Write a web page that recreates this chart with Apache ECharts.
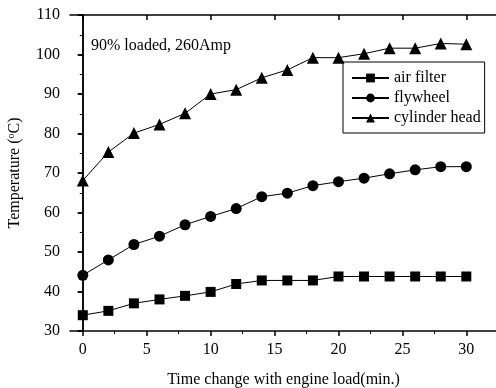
<!DOCTYPE html>
<html><head><meta charset="utf-8">
<script src="https://cdn.jsdelivr.net/npm/echarts@6/dist/echarts.min.js"></script>
<style>html,body{margin:0;padding:0;background:#fff}#c{width:496px;height:388px}</style>
</head><body><div id="c"></div>
<script>
var times = [0,2,4,6,8,10,12,14,16,18,20,22,24,26,28,30];
var airFilter = [34,35.1,37,38,38.9,39.9,41.9,42.8,42.8,42.8,43.8,43.8,43.8,43.8,43.8,43.8];
var flywheel = [44.1,48,51.9,54,56.9,59,61,64,64.9,66.8,67.8,68.7,69.8,70.8,71.6,71.6];
var cylinderHead = [68.1,75.3,80.1,82.3,85.1,90,91.1,94.1,96.1,99.2,99.2,100.2,101.6,101.6,102.8,102.6];
var xMajorTicks = [0,5,10,15,20,25,30];
var xMinorTicks = [2.5,7.5,12.5,17.5,22.5,27.5];
var seriesNames = ['air filter','flywheel','cylinder head'];

function pairs(v){ return times.map(function(t,i){ return [t, v[i]]; }); }
var font = 'Liberation Serif';
var chart = echarts.init(document.getElementById('c'));
var lineStyle = {color:'#000', width:1};
chart.setOption({
  animation:false,
  grid:{left:70, top:15, right:-1, bottom:57, containLabel:false, outerBoundsMode:'none'},
  legend:{
    orient:'vertical', left:343, top:62,
    borderColor:'#000', borderWidth:1, padding:[8,4,7,8],
    itemWidth:37, itemHeight:11, itemGap:4,
    textStyle:{fontFamily:font, fontSize:16, color:'#000'},
    data:seriesNames
  },
  graphic:[{type:'text', left:91, top:38, style:{text:'90% loaded, 260Amp', font:'16px "Liberation Serif"', fill:'#000'}}],
  xAxis:[
    {type:'value', position:'bottom', min:-1, max:32.4,
     axisLine:{lineStyle:{color:'#000', width:1.5}},
     axisTick:{show:true, inside:false, length:5, customValues:xMajorTicks, lineStyle:{color:'#000', width:1.5}},
     axisLabel:{customValues:xMajorTicks, color:'#000', fontFamily:font, fontSize:16, margin:11},
     splitLine:{show:false},
     name:'Time change with engine load(min.)', nameLocation:'middle', nameGap:41,
     nameTextStyle:{fontFamily:font, fontSize:16, color:'#000'}},
    {type:'value', position:'bottom', min:-1, max:32.4,
     axisLine:{show:false},
     axisTick:{show:true, inside:false, length:3, customValues:xMinorTicks, lineStyle:{color:'#000', width:1}},
     axisLabel:{show:false}, splitLine:{show:false}},
    {type:'value', position:'top', min:-1, max:32.4,
     axisLine:{lineStyle:{color:'#000', width:1.5}},
     axisTick:{show:true, inside:true, length:5, customValues:xMajorTicks, lineStyle:{color:'#000', width:1.5}},
     axisLabel:{show:false}, splitLine:{show:false}}
  ],
  yAxis:[
    {type:'value', position:'left', min:30, max:110, interval:10,
     axisLine:{show:true, lineStyle:{color:'#000', width:1.5}},
     axisTick:{show:true, inside:false, length:5, lineStyle:{color:'#000', width:1.5}},
     minorTick:{show:true, splitNumber:2, length:3, lineStyle:{color:'#000', width:1}},
     axisLabel:{color:'#000', fontFamily:font, fontSize:16, margin:10},
     splitLine:{show:false},
     name:'{t|Temperature (}{s|o}{t|C)}', nameLocation:'middle', nameGap:47, nameRotate:90,
     nameTextStyle:{rich:{t:{fontFamily:font, fontSize:16, color:'#000'}, s:{fontFamily:font, fontSize:10, color:'#000', verticalAlign:'top', padding:[0,0,7,0]}}}},
    {type:'value', position:'right', min:30, max:110, interval:10,
     axisLine:{show:true, lineStyle:{color:'#000', width:1.5}},
     axisTick:{show:true, inside:true, length:5, lineStyle:{color:'#000', width:1.5}},
     axisLabel:{show:false}, splitLine:{show:false}}
  ],
  series:[
    {name:seriesNames[0], type:'line', data:pairs(airFilter), symbol:'rect', symbolSize:10,
     itemStyle:{color:'#000'}, lineStyle:lineStyle},
    {name:seriesNames[1], type:'line', data:pairs(flywheel), symbol:'circle', symbolSize:11,
     itemStyle:{color:'#000'}, lineStyle:lineStyle},
    {name:seriesNames[2], type:'line', data:pairs(cylinderHead), symbol:'triangle', symbolSize:12,
     itemStyle:{color:'#000'}, lineStyle:lineStyle}
  ]
});
</script></body></html>
